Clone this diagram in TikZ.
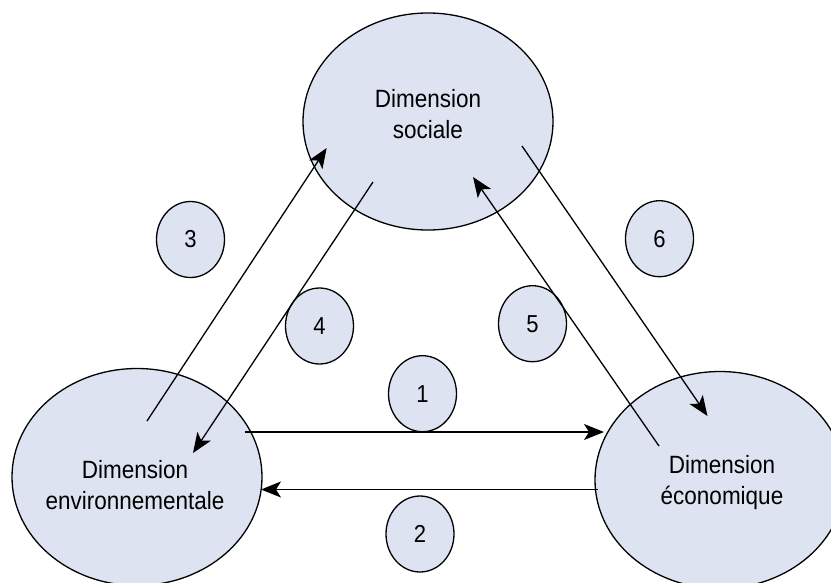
\documentclass[tikz,border=0pt]{standalone}
\usepackage{fontspec}
\setmainfont{Liberation Sans}[FakeStretch=0.9]
\usetikzlibrary{shapes.geometric,arrows.meta}
\definecolor{fillc}{RGB}{222,227,242}
\begin{document}
\begin{tikzpicture}[x=1pt,y=-1pt,
  big/.style={ellipse, draw, fill=fillc, line width=1.3pt, minimum width=250pt, minimum height=217pt, inner sep=0pt},
  num/.style={ellipse, draw, fill=fillc, line width=1.3pt, minimum width=68pt, minimum height=76pt, inner sep=0pt, font=\fontsize{24.5}{28}\selectfont},
  lbl/.style={align=center, font=\fontsize{25}{31}\selectfont, inner sep=0pt},
  arr/.style={-{Stealth[length=20pt,width=16pt,inset=5pt]}, line width=1.3pt}]
\useasboundingbox (0,0) rectangle (831,582);
\clip (0,0) rectangle (831,582);
% big ellipses
\node[big] (soc) at (428,121.5) {};
\node[big] (env) at (137,477) {};
\node[big] (eco) at (720,480) {};
\node[lbl] (socT) at (428,114.5) {Dimension\\sociale};
\node[lbl] (envT) at (135,485) {Dimension\\environnementale};
\node[lbl] (ecoT) at (722,483) {Dimension\\économique};
% numbered circles
\node[num] (n1) at (422.5,393.7) {1};
\node[num] (n2) at (420,534) {2};
\node[num] (n3) at (190.5,239.5) {3};
\node[num] (n4) at (319.5,326) {4};
\node[num] (n5) at (532.5,323.7) {5};
\node[num] (n6) at (659.5,238.7) {6};
% arrow end points
\coordinate (a3s) at (147,421);
\coordinate (a3e) at (326.7,148);
\coordinate (a4s) at (373,182);
\coordinate (a4e) at (193,453);
\coordinate (a5s) at (659,446);
\coordinate (a5e) at (473,177);
\coordinate (a6s) at (522,146);
\coordinate (a6e) at (707.5,416);
\coordinate (a1s) at (245,432);
\coordinate (a1e) at (604,432);
\coordinate (a2s) at (598,489.5);
\coordinate (a2e) at (261,489.5);
\draw[arr] (a3s) -- (a3e);
\draw[arr] (a4s) -- (a4e);
\draw[arr] (a5s) -- (a5e);
\draw[arr] (a6s) -- (a6e);
\draw[arr] (a1s) -- (a1e);
\draw[arr] (a2s) -- (a2e);
\end{tikzpicture}
\end{document}
